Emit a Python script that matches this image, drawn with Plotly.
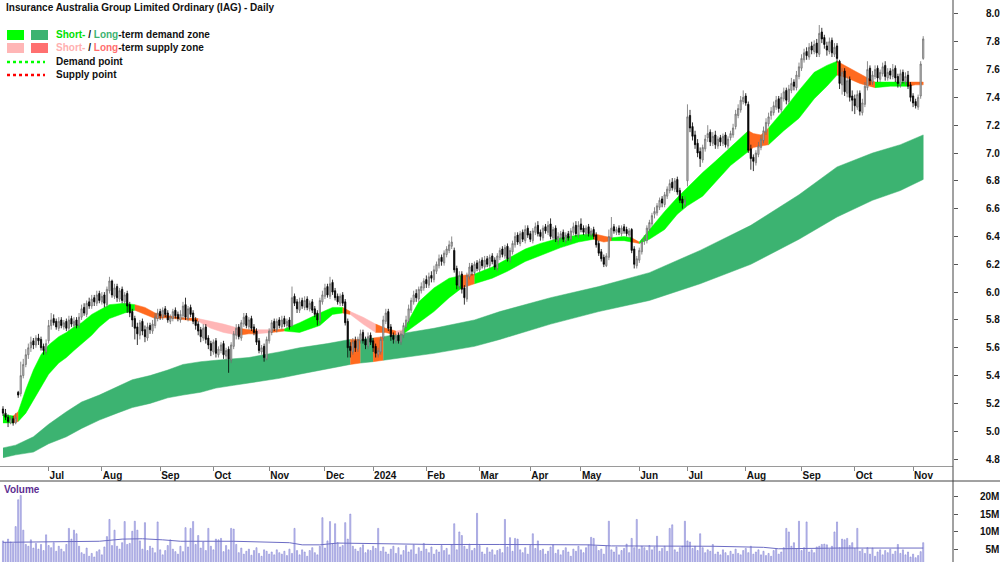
import pandas as pd
import plotly.graph_objects as go

TITLE = "Insurance Australia Group Limited Ordinary (IAG) - Daily"

HOLIDAYS = ["2023-06-12", "2023-12-25", "2023-12-26", "2024-01-01", "2024-01-26",
            "2024-03-29", "2024-04-01", "2024-04-25", "2024-06-10"]
FIRST_DAY = "2023-06-06"
LAST_DAY = "2024-11-07"
DATES = list(pd.bdate_range(FIRST_DAY, LAST_DAY, freq="C", holidays=HOLIDAYS))

# prices in cents
OPEN_C = [
516,513,510,506,509,506,528,527,540,548,
555,560,565,562,567,566,561,557,565,576,
581,579,574,580,575,579,574,581,576,580,
576,582,589,584,593,590,596,592,599,593,
598,591,601,608,597,604,595,602,593,599,
591,586,581,575,569,579,573,567,576,572,
576,581,586,582,588,585,579,581,587,584,
580,583,591,581,589,585,580,577,573,567,
575,567,563,557,565,555,558,563,554,559,
551,561,569,575,567,577,583,575,581,575,
572,565,557,561,552,565,571,579,573,580,
575,581,576,580,576,597,593,587,594,589,
595,588,593,588,585,579,593,597,604,597,
607,601,597,592,598,593,579,561,557,565,
559,565,571,566,561,569,565,561,555,557,
567,579,586,575,569,565,569,564,569,575,
579,587,593,599,595,601,603,609,605,612,
609,615,619,625,621,627,630,633,630,617,
604,613,603,595,611,619,614,621,616,623,
618,624,619,626,623,617,625,631,626,633,
623,629,634,641,635,643,637,646,642,637,
643,648,643,639,647,643,649,639,646,637,
639,643,637,642,638,643,648,641,649,646,
642,647,641,645,641,635,629,625,619,625,
639,647,643,646,642,647,645,641,645,631,
619,623,629,637,637,645,649,656,657,661,
667,663,669,673,679,674,681,673,667,663,
680,727,719,713,707,701,695,703,711,715,
707,713,705,711,707,713,705,711,713,719,
727,731,737,741,735,703,697,693,699,704,
709,715,721,727,729,733,739,731,739,745,
737,745,751,747,755,761,767,773,769,777,
773,779,771,787,783,777,773,781,771,777,
766,749,759,743,753,741,739,733,743,729,
735,747,761,751,755,761,753,757,763,754,
759,755,761,755,749,758,751,756,749,741,
737,733,741,768]

HIGH_C = [
518,516,512,511,511,513,529,550,552,559,
563,568,567,569,570,568,563,566,580,585,
584,581,582,582,580,581,583,583,582,582,
585,591,592,594,596,598,598,601,601,600,
600,604,611,609,606,606,603,604,600,601,
593,588,583,578,580,581,576,578,578,580,
585,588,588,589,590,587,584,588,589,586,
587,593,596,590,591,587,582,579,575,577,
577,569,565,566,567,561,564,565,560,561,
564,572,577,577,580,585,585,582,583,577,
574,567,562,563,568,574,580,581,581,582,
583,583,581,582,604,599,595,596,596,597,
597,594,595,590,587,596,601,606,606,611,
609,603,599,599,600,595,581,564,567,568,
568,573,573,568,571,571,567,563,560,568,
583,588,588,577,571,570,571,572,578,583,
591,596,601,602,604,607,610,612,614,615,
619,622,627,627,630,633,637,640,632,619,
615,615,605,614,621,621,622,623,624,625,
626,626,627,628,625,628,632,633,634,635,
632,637,643,643,644,645,648,648,644,646,
650,651,645,648,649,651,653,647,648,643,
644,645,643,644,646,650,651,651,653,648,
648,649,646,647,643,637,631,627,628,645,
654,649,647,648,648,649,647,646,646,633,
626,632,638,641,648,652,657,661,664,668,
669,672,676,681,682,682,683,675,669,669,
735,731,722,716,710,704,706,713,720,717,
715,716,712,713,714,715,712,716,721,731,
735,741,745,743,737,706,699,702,708,713,
719,725,729,733,737,741,741,743,747,747,
749,754,753,759,765,771,775,776,779,780,
781,782,792,790,785,780,783,783,779,779,
767,761,761,755,755,745,742,745,745,739,
751,766,763,759,763,763,760,765,766,761,
761,764,763,757,760,760,758,759,751,743,
739,742,766,784]

LOW_C = [
511,508,503,505,504,505,524,525,538,546,
552,557,559,560,562,558,555,555,563,573,
576,573,572,574,573,572,572,575,574,574,
574,580,583,582,588,588,590,590,592,591,
589,589,599,596,595,593,593,592,591,585,
582,575,566,562,566,569,564,565,570,570,
574,579,580,580,582,578,577,579,581,579,
578,581,580,579,582,577,573,569,564,565,
563,559,554,555,553,553,556,552,551,542,
549,559,566,566,565,575,574,573,572,569,
562,556,555,550,551,563,569,572,571,574,
573,575,574,573,575,590,585,585,588,587,
587,586,585,582,576,577,591,595,596,595,
598,594,591,590,590,576,553,553,555,557,
557,563,563,559,559,562,557,553,553,555,
565,577,572,565,563,563,563,562,567,573,
577,585,591,593,593,599,601,603,603,607,
607,613,617,619,619,625,628,631,614,602,
602,599,591,593,609,612,612,615,614,617,
616,618,617,620,616,615,623,625,624,622,
621,627,632,634,633,636,635,639,636,635,
641,640,637,637,642,641,638,637,636,634,
637,636,635,637,636,641,640,639,643,641,
640,640,639,638,632,626,622,618,618,623,
637,642,641,641,640,642,640,639,628,617,
617,621,627,634,635,643,647,653,655,659,
661,661,667,671,673,672,670,664,660,661,
676,715,709,703,697,690,693,701,708,705,
705,703,703,705,705,704,703,709,711,717,
725,729,735,734,700,688,687,691,697,702,
707,713,719,724,727,731,729,729,737,735,
735,743,745,745,753,759,765,767,767,771,
771,769,769,779,775,770,771,769,769,765,
746,742,741,740,737,730,728,731,727,727,
733,745,749,749,753,751,751,755,752,752,
753,753,751,747,747,750,749,746,737,733,
732,731,739,767]

CLOSE_C = [
513,510,507,509,506,510,526,540,548,555,
560,564,562,567,565,560,558,563,576,580,
578,575,579,576,578,574,580,577,579,576,
582,588,585,592,590,595,593,598,594,597,
592,602,608,598,603,596,601,594,598,590,
585,580,574,570,578,572,568,575,573,577,
582,585,583,587,584,580,582,586,583,581,
584,590,582,588,584,579,576,572,568,574,
566,562,558,564,556,559,562,555,558,552,
562,570,574,568,578,582,576,580,574,571,
564,558,560,553,566,572,578,574,579,576,
580,577,579,575,596,592,588,593,590,594,
589,592,587,584,580,594,598,603,598,606,
600,596,593,597,592,578,560,558,564,560,
566,570,565,562,568,564,560,556,558,566,
580,585,574,568,566,568,565,570,576,580,
588,594,598,596,602,604,608,606,611,610,
616,620,624,622,628,631,634,636,616,605,
612,602,596,612,618,615,620,617,622,619,
623,620,625,622,618,626,630,627,632,624,
630,635,640,636,642,638,645,641,638,644,
647,642,640,646,644,648,640,645,638,640,
642,638,641,639,644,647,642,648,645,643,
646,642,644,640,634,628,624,620,626,640,
646,644,645,643,646,644,642,644,630,620,
624,630,636,638,646,650,655,658,662,666,
664,670,674,678,675,680,672,666,664,666,
726,718,712,706,700,696,704,710,714,708,
712,706,710,708,712,706,710,714,718,728,
732,738,740,736,702,696,694,700,705,710,
716,722,726,730,734,738,732,740,744,738,
746,750,748,756,762,768,772,770,776,774,
778,772,786,782,778,774,780,772,776,768,
750,758,744,752,740,738,734,742,730,736,
748,760,752,756,760,754,758,762,755,758,
756,760,754,750,757,752,755,748,740,736,
734,740,764,782]

# volume in millions of shares
VOLUME_M = [
7.5,7.0,8.0,7.2,6.8,11.5,19.0,20.2,10.5,6.5,
6.0,7.8,5.5,6.8,5.2,6.5,4.8,9.2,6.2,5.6,
7.0,4.6,6.0,5.2,4.5,6.5,11.0,8.0,10.5,9.5,
6.0,4.2,3.8,5.5,3.2,4.0,3.0,4.5,5.0,3.6,
5.8,8.7,13.5,6.2,10.5,6.0,5.2,7.0,12.9,6.5,
6.8,10.2,13.0,10.5,7.5,5.2,12.6,4.8,6.0,5.5,
4.2,12.8,5.0,3.6,4.8,6.2,7.8,5.2,4.5,3.8,
6.0,4.5,11.2,5.8,11.0,12.9,6.5,9.0,5.5,7.2,
4.8,11.0,6.0,5.0,8.0,7.8,8.2,4.5,6.2,5.0,
11.0,10.8,6.5,4.2,5.5,3.8,4.6,5.2,3.5,4.8,
5.6,4.0,3.2,5.0,4.6,3.8,4.4,3.6,5.0,4.2,
3.8,4.6,3.4,5.2,4.0,11.0,4.8,3.6,5.0,4.4,
3.2,4.8,5.6,4.2,3.6,6.0,14.0,5.5,7.5,12.9,
6.5,12.3,7.0,5.8,6.2,12.6,8.0,15.0,6.0,5.2,
4.6,5.6,6.4,4.2,5.0,4.8,6.0,5.4,11.0,4.6,
5.8,4.4,3.8,5.2,6.0,4.0,5.6,3.6,4.8,6.2,
4.4,5.0,6.4,3.8,5.6,4.6,6.8,5.2,4.2,5.8,
3.8,5.0,4.4,6.2,4.8,5.4,3.6,6.4,12.3,5.0,
10.0,9.0,6.0,5.2,6.6,4.8,5.4,15.2,6.2,4.4,
3.8,5.6,4.4,5.0,3.6,4.8,5.2,4.2,13.5,5.8,
8.4,4.6,8.2,8.0,5.0,4.2,5.6,3.8,6.2,9.5,
5.4,7.5,4.8,5.2,3.8,4.6,5.8,6.4,4.0,5.0,
3.6,4.8,5.6,4.4,3.2,5.2,4.6,6.0,5.0,4.2,
5.6,6.4,8.5,8.2,6.0,4.8,5.2,3.8,6.0,13.0,
5.0,4.4,5.8,3.6,4.8,5.4,6.6,4.2,8.2,5.6,
13.5,5.2,6.0,5.6,4.8,6.2,5.0,5.8,8.8,4.6,
5.4,6.0,4.6,11.0,12.0,5.0,4.4,5.6,6.0,13.0,
7.5,7.2,5.4,6.0,4.8,9.5,5.6,4.2,5.0,4.6,
6.5,3.8,4.4,3.6,5.0,4.2,3.4,4.6,3.8,5.2,
4.0,3.6,4.8,5.4,4.2,6.0,3.8,4.4,5.0,3.6,
4.6,3.4,4.0,3.2,4.8,5.2,3.8,4.4,5.6,11.0,
10.0,6.0,7.0,5.2,13.0,4.8,5.6,12.8,4.4,5.0,
4.2,5.8,6.0,6.5,6.6,6.4,5.2,6.0,10.0,12.8,
5.6,8.0,7.8,8.2,6.2,7.0,5.4,11.0,4.6,5.2,
4.0,5.6,3.8,5.5,3.2,4.4,5.0,3.6,4.8,4.2,
5.2,3.8,4.6,6.5,4.0,5.0,3.6,4.4,3.0,3.8,
2.8,3.4,4.5,7.0]

# volume moving average (trading-day number -> millions)
VMA_DAY = [0, 20, 38, 47, 55, 63, 70, 91, 104, 113, 118, 125, 132, 144, 170, 196,
           215, 231, 240, 280, 300, 306, 330, 363]
VMA_M = [7.1, 7.3, 7.4, 8.0, 8.1, 7.8, 7.4, 7.4, 7.1, 7.0, 6.4, 6.4, 6.9, 6.8, 6.5, 6.5,
         6.4, 6.4, 6.1, 6.0, 5.7, 5.3, 5.5, 5.5]

# short-term zone edges (trading-day number)
SB_DAY = [0, 4, 6, 9, 12, 15, 18, 22, 25, 28, 31, 35, 38, 42, 48, 52, 56, 60, 65, 71, 77,
          82, 87, 93, 97, 100, 106, 111, 117, 125, 130, 134, 137, 142, 147, 151, 155, 158,
          164, 170, 176, 181, 186, 193, 199, 206, 212, 220, 227, 233, 237, 240, 245, 248,
          251, 255, 261, 266, 270, 276, 281, 287, 294, 296, 299, 302, 308, 314, 320, 325,
          329, 333, 338, 344, 350, 357, 360, 363]
SB_TOP = [5.12, 5.11, 5.14, 5.30, 5.44, 5.55, 5.62, 5.68, 5.71, 5.75, 5.78, 5.84, 5.87, 5.91,
          5.92, 5.91, 5.89, 5.85, 5.83, 5.815, 5.81, 5.79, 5.77, 5.74, 5.73, 5.73, 5.73, 5.735,
          5.78, 5.85, 5.89, 5.89, 5.86, 5.82, 5.77, 5.74, 5.72, 5.73, 5.93, 6.03, 6.10, 6.12,
          6.13, 6.18, 6.24, 6.31, 6.35, 6.39, 6.41, 6.42, 6.40, 6.39, 6.40, 6.39, 6.36, 6.45,
          6.58, 6.68, 6.75, 6.86, 6.94, 7.04, 7.16, 7.14, 7.13, 7.18, 7.31, 7.45, 7.58, 7.63,
          7.66, 7.62, 7.57, 7.51, 7.51, 7.51, 7.51, 7.51]
SB_BOT = [5.06, 5.06, 5.07, 5.13, 5.22, 5.32, 5.41, 5.49, 5.53, 5.58, 5.63, 5.69, 5.75, 5.81,
          5.85, 5.87, 5.84, 5.81, 5.815, 5.805, 5.79, 5.74, 5.71, 5.69, 5.70, 5.70, 5.71, 5.72,
          5.71, 5.76, 5.84, 5.85, 5.84, 5.77, 5.71, 5.71, 5.69, 5.70, 5.78, 5.86, 5.96, 6.03,
          6.06, 6.10, 6.15, 6.22, 6.26, 6.32, 6.36, 6.38, 6.36, 6.37, 6.37, 6.36, 6.35, 6.38,
          6.45, 6.56, 6.62, 6.69, 6.79, 6.91, 7.01, 7.04, 7.05, 7.06, 7.16, 7.25, 7.39, 7.48,
          7.56, 7.54, 7.50, 7.47, 7.48, 7.48, 7.49, 7.49]
# (from day, to day, zone kind): d = demand, s = supply, o = supply (strong)
SB_ZONES = [(0, 4, "d"), (4, 6, "o"), (6, 52, "d"), (52, 77, "o"), (77, 93, "s"),
            (93, 100, "o"), (100, 106, "s"), (106, 111, "o"), (111, 134, "d"),
            (134, 137, "o"), (137, 147, "s"), (147, 155, "o"), (155, 158, "s"),
            (158, 181, "d"), (181, 186, "o"), (186, 233, "d"), (233, 240, "o"),
            (240, 248, "d"), (248, 251, "o"), (251, 294, "d"), (294, 302, "o"),
            (302, 329, "d"), (329, 344, "o"), (344, 357, "d"), (357, 363, "o")]

# long-term zone edges
LB_DAY = [0, 5, 12, 18, 25, 31, 38, 45, 51, 58, 65, 71, 78, 84, 91, 97, 109, 117, 128,
          137, 141, 146, 150, 157, 170, 186, 196, 216, 235, 255, 275, 295, 314, 329, 343,
          354, 363]
LB_TOP = [4.88, 4.90, 4.96, 5.05, 5.14, 5.21, 5.26, 5.32, 5.37, 5.40, 5.44, 5.48, 5.50, 5.51,
          5.52, 5.53, 5.57, 5.60, 5.63, 5.66, 5.66, 5.67, 5.68, 5.70, 5.74, 5.80, 5.86, 5.96,
          6.04, 6.14, 6.30, 6.48, 6.70, 6.90, 7.00, 7.06, 7.13]
LB_BOT = [4.81, 4.83, 4.85, 4.91, 4.96, 5.02, 5.08, 5.13, 5.17, 5.20, 5.24, 5.26, 5.28, 5.31,
          5.33, 5.35, 5.38, 5.41, 5.45, 5.48, 5.49, 5.50, 5.51, 5.53, 5.56, 5.61, 5.66, 5.77,
          5.86, 5.94, 6.06, 6.20, 6.38, 6.54, 6.66, 6.73, 6.81]
LB_ZONES = [(0, 137, "D"), (137, 141, "o"), (141, 146, "D"), (146, 150, "o"), (150, 363, "D")]

MONTH_TICKS = ["2023-07-03", "2023-08-01", "2023-09-01", "2023-10-02", "2023-11-01",
               "2023-12-01", "2024-01-02", "2024-02-01", "2024-03-01", "2024-04-02",
               "2024-05-01", "2024-06-03", "2024-07-01", "2024-08-01", "2024-09-02",
               "2024-10-01", "2024-11-01"]
MONTH_LABELS = ["Jul", "Aug", "Sep", "Oct", "Nov", "Dec", "2024", "Feb", "Mar", "Apr",
                "May", "Jun", "Jul", "Aug", "Sep", "Oct", "Nov"]
PRICE_TICKS = [4.8, 5.0, 5.2, 5.4, 5.6, 5.8, 6.0, 6.2, 6.4, 6.6, 6.8, 7.0, 7.2, 7.4, 7.6,
               7.8, 8.0]
VOL_TICKS = [5, 10, 15, 20]
VOL_LABELS = ["\u00a0\u00a05M", "10M", "15M", "20M"]

assert len(DATES) == len(CLOSE_C) == len(OPEN_C) == len(HIGH_C) == len(LOW_C) == len(VOLUME_M), \
    (len(DATES), len(CLOSE_C), len(OPEN_C), len(HIGH_C), len(LOW_C), len(VOLUME_M))

ZONE_COLORS = {"d": "#00ff00", "D": "#3cb371", "s": "#ffb6b6", "o": "#ff6a1f"}
FONT = "Liberation Sans, Arial, sans-serif"
W, H = 1000, 562
PLOT_RIGHT = 953

fig = go.Figure()


def add_zone(days, top, bot, zones):
    for a, b, kind in zones:
        sel = [k for k, d in enumerate(days) if a <= d <= b]
        xs = [DATES[days[k]] for k in sel] + [DATES[days[k]] for k in reversed(sel)]
        ys = [top[k] for k in sel] + [bot[k] for k in reversed(sel)]
        col = ZONE_COLORS[kind]
        fig.add_trace(go.Scatter(x=xs, y=ys, mode="lines", fill="toself", fillcolor=col,
                                 line=dict(color=col, width=0.5), hoverinfo="skip",
                                 showlegend=False, xaxis="x", yaxis="y"))


add_zone(LB_DAY, LB_TOP, LB_BOT, LB_ZONES)
add_zone(SB_DAY, SB_TOP, SB_BOT, SB_ZONES)

fig.add_trace(go.Candlestick(
    x=DATES,
    open=[v / 100 for v in OPEN_C], high=[v / 100 for v in HIGH_C],
    low=[v / 100 for v in LOW_C], close=[v / 100 for v in CLOSE_C],
    increasing=dict(fillcolor="#c8c8c8", line=dict(color="#6e6e6e", width=0.8)),
    decreasing=dict(fillcolor="#000000", line=dict(color="#000000", width=0.8)),
    xaxis="x", yaxis="y3", showlegend=False, hoverinfo="skip"))

fig.add_trace(go.Bar(
    x=DATES, y=VOLUME_M, xaxis="x2", yaxis="y2", width=0.42 * 86400000,
    marker=dict(color="#cdcdf3", line=dict(color="#8585d4", width=0.6)),
    showlegend=False, hoverinfo="skip"))
fig.add_trace(go.Scatter(
    x=[DATES[d] for d in VMA_DAY], y=VMA_M, mode="lines", xaxis="x2", yaxis="y2",
    line=dict(color="#6c6cc4", width=1), showlegend=False, hoverinfo="skip"))

rb = [dict(bounds=["sat", "mon"]), dict(values=HOLIDAYS)]
xr = ["2023-06-02 19:40", "2024-11-22 18:00"]
dom_x = [0, PLOT_RIGHT / W]
price_dom = [1 - 466 / H, 1]
vol_dom = [0, 1 - 481 / H]
prange = [4.75, 8.10]
tickfont = dict(family=FONT, size=10, color="#111111", weight="bold")

fig.update_layout(
    width=W, height=H, margin=dict(l=0, r=0, t=0, b=0),
    paper_bgcolor="white", plot_bgcolor="white", showlegend=False,
    font=dict(family=FONT, size=10, color="#111111"),
    xaxis=dict(domain=dom_x, anchor="y", range=xr, rangebreaks=rb,
               rangeslider=dict(visible=False), tickmode="array",
               tickvals=MONTH_TICKS, ticktext=MONTH_LABELS, ticks="outside", ticklen=4,
               tickcolor="#888888", showline=True, linecolor="#9a9a9a", linewidth=1,
               showgrid=False, zeroline=False, ticklabelposition="outside right",
               tickfont=tickfont),
    yaxis=dict(domain=price_dom, anchor="x", side="right", range=prange,
               tickmode="array", tickvals=PRICE_TICKS, tickformat=".1f",
               ticks="outside", ticklen=4, tickcolor="#555555", showgrid=False,
               zeroline=False, showline=False, tickfont=tickfont, ticklabelstandoff=26),
    yaxis3=dict(overlaying="y", anchor="x", range=prange, visible=False),
    xaxis2=dict(domain=dom_x, anchor="y2", range=xr, rangebreaks=rb, matches="x",
                showticklabels=False, ticks="", showgrid=False, zeroline=False,
                showline=False),
    yaxis2=dict(domain=vol_dom, anchor="x2", side="right", range=[1.6, 24.25],
                tickmode="array", tickvals=VOL_TICKS, ticktext=VOL_LABELS,
                ticks="outside", ticklen=4, tickcolor="#555555", showgrid=False,
                zeroline=False, showline=False, tickfont=tickfont, ticklabelstandoff=20),
)


def px(x):
    return x / W


def py(y):
    return 1 - y / H


shapes = [
    dict(type="line", xref="paper", yref="paper", x0=px(PLOT_RIGHT), x1=px(PLOT_RIGHT),
         y0=0, y1=1, line=dict(color="#444444", width=1)),
    dict(type="line", xref="paper", yref="paper", x0=0, x1=1, y0=py(481), y1=py(481),
         line=dict(color="#444444", width=1)),
    dict(type="rect", xref="paper", yref="paper", x0=px(7), x1=px(24), y0=py(40), y1=py(30),
         fillcolor="#00ff00", line=dict(width=0)),
    dict(type="rect", xref="paper", yref="paper", x0=px(31), x1=px(48), y0=py(40), y1=py(30),
         fillcolor="#3cb371", line=dict(width=0)),
    dict(type="rect", xref="paper", yref="paper", x0=px(7), x1=px(24), y0=py(53), y1=py(43),
         fillcolor="#ffb6b6", line=dict(width=0)),
    dict(type="rect", xref="paper", yref="paper", x0=px(31), x1=px(48), y0=py(53), y1=py(43),
         fillcolor="#ff7070", line=dict(width=0)),
    dict(type="line", xref="paper", yref="paper", x0=px(7), x1=px(45), y0=py(62), y1=py(62),
         line=dict(color="#00ff00", width=2.5, dash="dot")),
    dict(type="line", xref="paper", yref="paper", x0=px(7), x1=px(45), y0=py(75), y1=py(75),
         line=dict(color="#ff0000", width=2.5, dash="dot")),
]

ann_font = dict(family=FONT, size=10, color="#111111", weight="bold")
annotations = [
    dict(text=TITLE, x=px(4), y=py(8), xref="paper", yref="paper", xanchor="left",
         yanchor="middle", showarrow=False, font=ann_font),
    dict(text="<span style='color:#00e000'>Short-</span> / <span style='color:#3cb371'>Long</span>-term demand zone",
         x=px(54), y=py(35), xref="paper", yref="paper", xanchor="left", yanchor="middle",
         showarrow=False, font=ann_font),
    dict(text="<span style='color:#ffb0b0'>Short-</span> / <span style='color:#ff6e6e'>Long</span>-term supply zone",
         x=px(54), y=py(48), xref="paper", yref="paper", xanchor="left", yanchor="middle",
         showarrow=False, font=ann_font),
    dict(text="Demand point", x=px(54), y=py(62), xref="paper", yref="paper",
         xanchor="left", yanchor="middle", showarrow=False, font=ann_font),
    dict(text="Supply point", x=px(54), y=py(75), xref="paper", yref="paper",
         xanchor="left", yanchor="middle", showarrow=False, font=ann_font),
    dict(text="Volume", x=px(2), y=py(489), xref="paper", yref="paper", xanchor="left",
         yanchor="middle", showarrow=False,
         font=dict(family=FONT, size=10, color="#5c2d91", weight="bold")),
]
fig.update_layout(shapes=shapes, annotations=annotations)

fig.write_html("out.html")
